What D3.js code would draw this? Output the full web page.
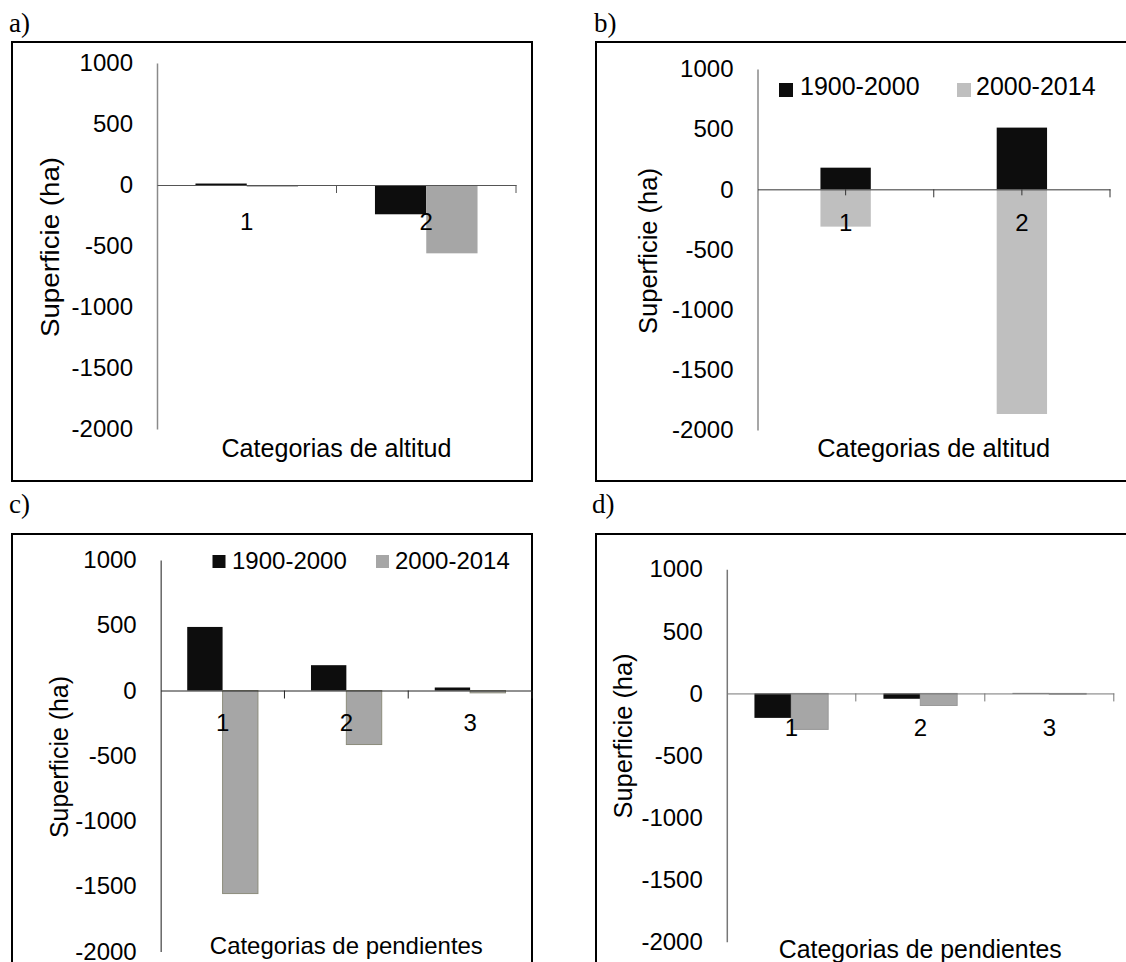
<!DOCTYPE html>
<html>
<head>
<meta charset="utf-8">
<script src="https://cdn.jsdelivr.net/npm/d3@7"></script>
<style>
  body { margin: 0; background: #fff; }
  text { font-family: "Liberation Sans", Arial, sans-serif; fill: #000; }
</style>
</head>
<body>
<script>
// valores (ha)
const catsAltitud = ["1", "2"];
const catsPendientes = ["1", "2", "3"];
const serieNombres = ["1900-2000", "2000-2014"];
const yTicks = [1000, 500, 0, -500, -1000, -1500, -2000];

const a1900 = [12, -240];
const a2000 = [-15, -560];
const b1900 = [180, 513];
const b2000 = [-310, -1867];
const c1900 = [487, 194, 23];
const c2000 = [-1556, -414, -18];
const d1900 = [-197, -43, 4];
const d2000 = [-290, -97, -6];

// disposicion de cada panel
const paneles = [
    { label: "a)", lx: 9, ly: 32, box: [12, 42, 520, 439], cats: catsAltitud, series: [a1900, a2000],
      x: [157, 516], y: [63, 429], gris: "#a6a6a6", solapa: false, pad: 28, zero: "#555", eje: "#8a8a8a",
      xTitulo: "Categorias de altitud", xTy: 457, xTlen: 230, xTfs: 25, yTx: 59, yTy: 247, yTlen: 180 },
    { label: "b)", lx: 594, ly: 32, box: [596, 42, 560, 439], cats: catsAltitud, series: [b1900, b2000],
      x: [757.5, 1110], y: [69, 430], gris: "#bfbfbf", solapa: true, pad: 25, zero: "#333", eje: "#8a8a8a",
      xTitulo: "Categorias de altitud", xTy: 457, xTlen: 233, xTfs: 25, yTx: 657, yTy: 251, yTlen: 166,
      leyenda: { sq: [779, 957], sy: 83, ss: 14, tx: [800, 976], ty: 95, fs: 25 } },
    { label: "c)", lx: 9, ly: 513, box: [12, 534, 520, 450], cats: catsPendientes, series: [c1900, c2000],
      x: [160.7, 532], y: [560, 951.5], gris: "#a6a6a6", borde: "#8c8c7c", solapa: false, pad: 23, zero: "#222", eje: "#666",
      xTitulo: "Categorias de pendientes", xTy: 954, xTlen: 273, xTfs: 24, yTx: 68, yTy: 757, yTlen: 162,
      leyenda: { sq: [212.5, 376], sy: 555, ss: 13, tx: [232, 395], ty: 569, fs: 24 } },
    { label: "d)", lx: 592, ly: 513, box: [596, 534, 560, 450], cats: catsPendientes, series: [d1900, d2000],
      x: [726.8, 1113.8], y: [569.3, 941.7], gris: "#a6a6a6", borde: "#999", solapa: false, pad: 26, zero: "#777", eje: "#777",
      xTitulo: "Categorias de pendientes", xTy: 958, xTlen: 283, xTfs: 25, yTx: 632, yTy: 736, yTlen: 165 }
];

const svg = d3.select("body").append("svg").attr("width", 1126).attr("height", 962);

function dibujarPanel(p) {
    const g = svg.append("g");

    g.append("text").attr("x", p.lx).attr("y", p.ly).text(p.label)
        .style("font-family", "'Liberation Serif', 'Times New Roman', serif").style("font-size", "27px");

    g.append("rect").attr("x", p.box[0]).attr("y", p.box[1]).attr("width", p.box[2]).attr("height", p.box[3])
        .attr("fill", "none").attr("stroke", "#000").attr("stroke-width", 2);

    const y = d3.scaleLinear().domain([-2000, 1000]).range([p.y[1], p.y[0]]);
    const x = d3.scaleBand().domain(p.cats).range(p.x).padding(0);
    const xs = d3.scaleBand().domain([0, 1]).range([0, x.bandwidth()]).paddingInner(0).paddingOuter(0.75);
    const colores = ["#0d0d0d", p.gris];

    const barras = [];
    p.series.forEach((vals, s) => vals.forEach((v, i) => barras.push({ c: p.cats[i], s: s, v: v })));

    g.selectAll("rect.barra").data(barras).enter().append("rect")
        .attr("class", "barra")
        .attr("x", d => p.solapa ? x(d.c) + x.bandwidth() / 2 - xs.bandwidth() / 2 : x(d.c) + xs(d.s))
        .attr("y", d => Math.min(y(d.v), y(0)))
        .attr("width", xs.bandwidth())
        .attr("height", d => Math.abs(y(d.v) - y(0)))
        .attr("fill", d => colores[d.s])
        .attr("stroke", d => (d.s === 1 && p.borde) ? p.borde : "none")
        .attr("stroke-width", 1);

    // eje y (sin separador de miles, guion normal)
    const ay = g.append("g").attr("transform", `translate(${p.x[0]},0)`)
        .call(d3.axisLeft(y).tickValues(yTicks).tickSize(0).tickPadding(24).tickFormat(d => String(d)));
    ay.select(".domain").attr("stroke", p.eje).attr("stroke-width", 1.5);
    ay.selectAll("text").style("font-size", "24px").attr("fill", "#000")
        .style("font-family", "'Liberation Sans', Arial, sans-serif");

    // eje x en cero
    const ax = g.append("g").attr("transform", `translate(0,${y(0)})`)
        .call(d3.axisBottom(x).tickSize(0).tickPadding(p.pad));
    ax.select(".domain").attr("stroke", p.zero).attr("stroke-width", 1);
    ax.selectAll("text").style("font-size", "24px").attr("fill", "#000")
        .style("font-family", "'Liberation Sans', Arial, sans-serif");
    ax.selectAll("line.lim").data(p.cats).enter().append("line").attr("class", "lim")
        .attr("x1", c => x(c) + x.bandwidth()).attr("x2", c => x(c) + x.bandwidth())
        .attr("y1", 0).attr("y2", 8).attr("stroke", p.zero);
    if (p.solapa) {
        ax.selectAll("line.med").data(p.cats).enter().append("line").attr("class", "med")
            .attr("x1", c => x(c) + x.bandwidth() / 2).attr("x2", c => x(c) + x.bandwidth() / 2)
            .attr("y1", 0).attr("y2", 6).attr("stroke", p.zero);
    }

    // titulos
    g.append("text").attr("x", (p.x[0] + p.x[1]) / 2).attr("y", p.xTy).attr("text-anchor", "middle")
        .style("font-size", p.xTfs + "px").attr("textLength", p.xTlen).attr("lengthAdjust", "spacingAndGlyphs")
        .text(p.xTitulo);
    g.append("text").attr("transform", `translate(${p.yTx},${p.yTy}) rotate(-90)`).attr("text-anchor", "middle")
        .style("font-size", "25px").attr("textLength", p.yTlen).attr("lengthAdjust", "spacingAndGlyphs")
        .text("Superficie (ha)");

    // leyenda
    if (p.leyenda) {
        const l = p.leyenda;
        serieNombres.forEach((n, s) => {
            g.append("rect").attr("x", l.sq[s]).attr("y", l.sy).attr("width", l.ss).attr("height", l.ss)
                .attr("fill", colores[s]);
            g.append("text").attr("x", l.tx[s]).attr("y", l.ty).style("font-size", l.fs + "px").text(n);
        });
    }
}

paneles.forEach(dibujarPanel);
</script>
</body>
</html>
